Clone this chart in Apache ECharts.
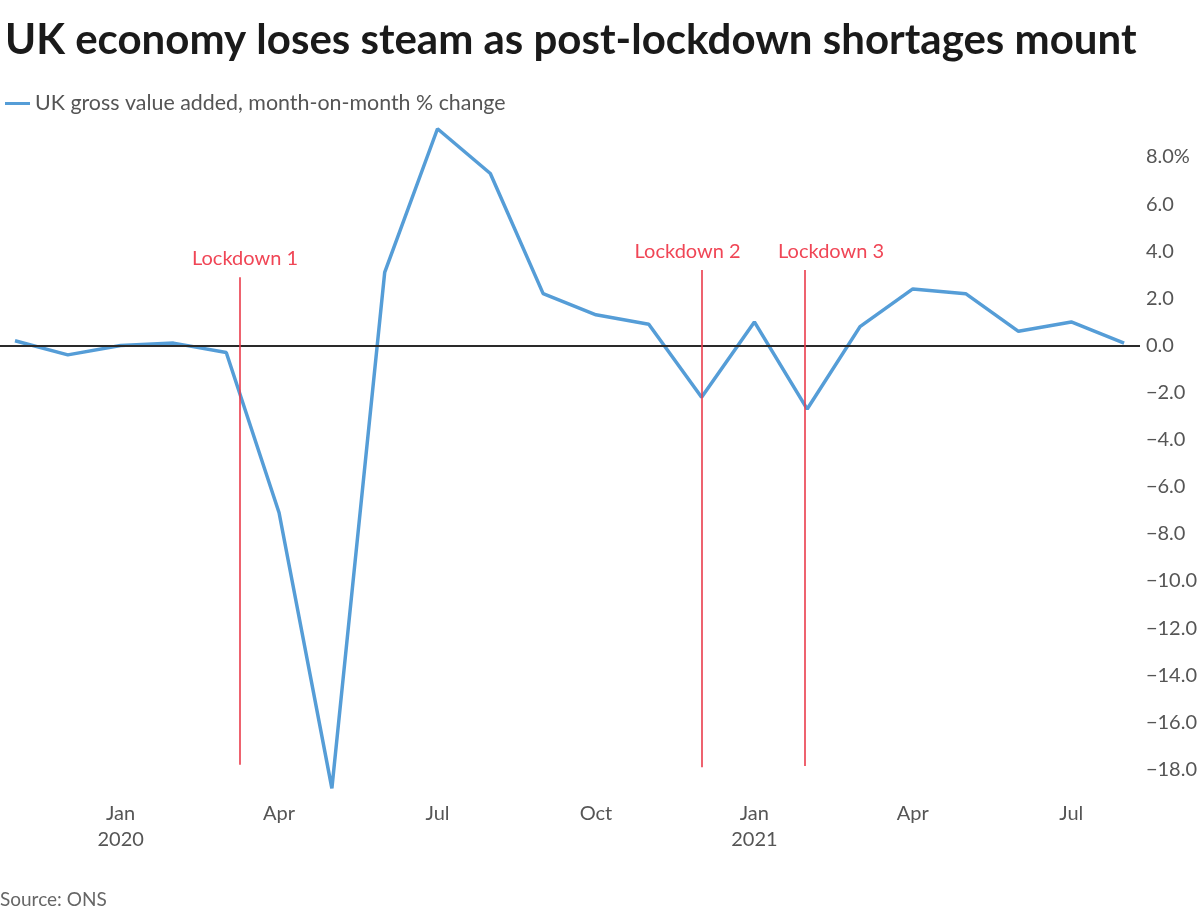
<!DOCTYPE html>
<html>
<head>
<meta charset="utf-8">
<script src="https://cdn.jsdelivr.net/npm/echarts@6/dist/echarts.min.js"></script>
<style>
html,body{margin:0;padding:0;background:#fff;}
#chart{width:1200px;height:917px;}
</style>
</head>
<body>
<div id="chart"></div>
<script>
// Monthly data, Oct 2019 .. Jul 2021 (plotted at month end)
const months = ['Oct 2019','Nov 2019','Dec 2019','Jan 2020','Feb 2020','Mar 2020','Apr 2020','May 2020','Jun 2020','Jul 2020','Aug 2020','Sep 2020','Oct 2020','Nov 2020','Dec 2020','Jan 2021','Feb 2021','Mar 2021','Apr 2021','May 2021','Jun 2021','Jul 2021'];
const gva = [0.2, -0.4, 0.0, 0.1, -0.3, -7.1, -18.8, 3.1, 9.2, 7.3, 2.2, 1.3, 0.9, -2.2, 1.0, -2.7, 0.8, 2.4, 2.2, 0.6, 1.0, 0.1];

// x tick labels (position in month index -> label)
const tickIndex = [2, 5, 8, 11, 14, 17, 20];
const tickLabels = ['Jan\n2020', 'Apr', 'Jul', 'Oct', 'Jan\n2021', 'Apr', 'Jul'];

// y ticks
const yMin = -18, yMax = 8, yStep = 2;

// Lockdown annotations
const lockdownNames = ['Lockdown 1', 'Lockdown 2', 'Lockdown 3'];
const lockdownX = [4.26, 13.0, 14.96];
const lockdownTop = [2.9, 3.2, 3.2];
const lockdownBottom = [-17.8, -17.9, -17.85];
const lockdownLabelShift = [5, -14, 26];

const seriesName = 'UK gross value added, month-on-month % change';

const chart = echarts.init(document.getElementById('chart'));
const font = 'Lato, "Open Sans", sans-serif';
const red = '#ea3b4b';

const markData = [
  [{ yAxis: 0, x: 0, lineStyle: { color: '#2a2a2a', width: 1.8, type: 'solid' }, label: { show: false } },
   { yAxis: 0, x: 1140 }]
];
lockdownNames.forEach((n, i) => {
  markData.push([
    { name: n, coord: [lockdownX[i], lockdownBottom[i]], lineStyle: { color: red, width: 1.6, type: 'solid' },
      label: { show: true, position: 'end', formatter: n, color: '#f04656', fontSize: 20, fontFamily: font, distance: 9, offset: [lockdownLabelShift[i], 0] } },
    { coord: [lockdownX[i], lockdownTop[i]] }
  ]);
});

chart.setOption({
  animation: false,
  backgroundColor: '#fff',
  title: {
    text: 'UK economy loses steam as post-lockdown shortages mount',
    left: 0, top: 14,
    textStyle: { fontFamily: font, fontWeight: 'bold', fontSize: 42, color: '#1a1a1a' }
  },
  legend: {
    left: 0, top: 88,
    icon: 'rect', itemWidth: 25, itemHeight: 3, itemGap: 9,
    textStyle: { fontFamily: font, fontSize: 21.4, color: '#555' },
    data: [seriesName]
  },
  grid: { left: 0, right: 60, top: 157, bottom: 147.5, containLabel: false },
  xAxis: {
    type: 'value',
    min: -0.284, max: 21.28,
    axisLine: { show: false },
    axisTick: { show: false },
    splitLine: { show: false },
    axisLabel: {
      customValues: tickIndex,
      formatter: v => { const k = tickIndex.indexOf(Math.round(v)); return k >= 0 ? tickLabels[k] : ''; },
      fontFamily: font, fontSize: 20, color: '#555', lineHeight: 26, margin: 31
    }
  },
  yAxis: {
    type: 'value',
    position: 'right',
    min: yMin, max: yMax, interval: yStep,
    axisLine: { show: false },
    axisTick: { show: false },
    splitLine: { show: false },
    axisLabel: {
      fontFamily: font, fontSize: 20, color: '#555', margin: 7,
      formatter: v => {
        const s = Math.abs(v).toFixed(1);
        const t = (v < 0 ? '\u2212' : '') + s;
        return v === yMax ? t + '%' : t;
      }
    }
  },
  series: [{
    name: seriesName,
    type: 'line',
    clip: false,
    showSymbol: false,
    data: gva.map((v, i) => [i, v]),
    lineStyle: { color: '#559dd7', width: 3.5 },
    itemStyle: { color: '#559dd7' },
    markLine: {
      silent: true,
      symbol: ['none', 'none'],
      animation: false,
      data: markData
    }
  }],
  graphic: [{
    type: 'text', left: 0, top: 890,
    style: { text: 'Source: ONS', fontFamily: font, fontSize: 19, fill: '#666' }
  }]
});
</script>
</body>
</html>
